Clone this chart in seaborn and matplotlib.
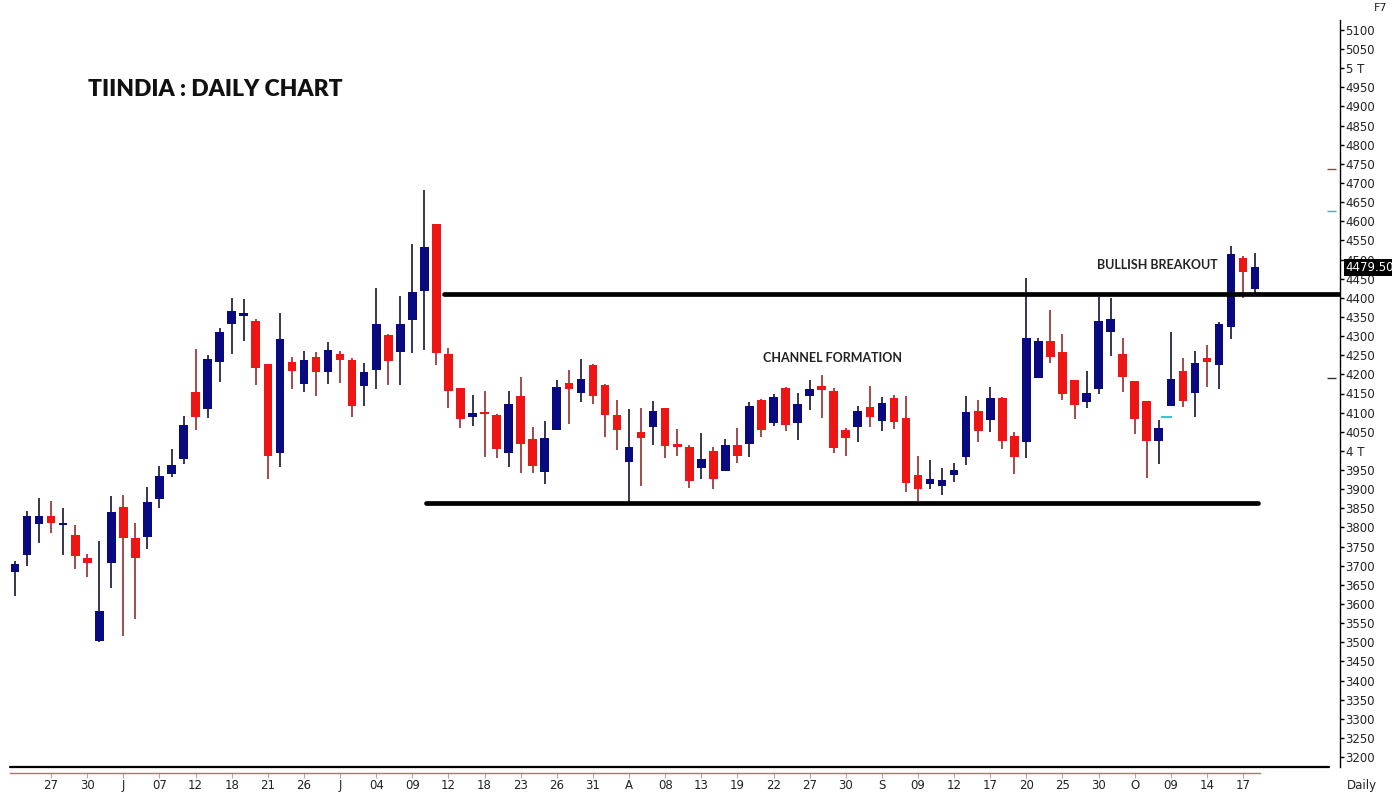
import numpy as np
import pandas as pd
import matplotlib
matplotlib.use("Agg")
import matplotlib.pyplot as plt
import matplotlib.transforms as mtransforms
import seaborn as sns

# ---------------- data ----------------
opens = [3683, 3728, 3809, 3830, 3807, 3780, 3720, 3503, 3707, 3853,
         3772, 3775, 3874, 3939, 3979, 4154, 4109, 4232, 4331, 4352,
         4339, 4227, 3994, 4232, 4175, 4245, 4206, 4253, 4237, 4169,
         4211, 4303, 4258, 4342, 4418, 4593, 4253, 4164, 4088, 4099,
         4094, 3994, 4143, 4031, 3945, 4054, 4177, 4151, 4224, 4172,
         4094, 3971, 4049, 4062, 4112, 4018, 4010, 3955, 4000, 3947,
         4015, 4018, 4133, 4073, 4164, 4073, 4143, 4169, 4156, 4054,
         4062, 4114, 4078, 4138, 4086, 3937, 3913, 3908, 3937, 3984,
         4104, 4081, 4138, 4039, 4023, 4190, 4287, 4258, 4185, 4128,
         4162, 4311, 4253, 4182, 4130, 4026, 4117, 4209, 4151, 4243,
         4224, 4324, 4504, 4423]
highs = [3712, 3843, 3877, 3869, 3851, 3806, 3730, 3764, 3882, 3885,
         3811, 3905, 3960, 4005, 4091, 4266, 4250, 4321, 4399, 4397,
         4345, 4227, 4360, 4245, 4261, 4258, 4284, 4261, 4243, 4230,
         4426, 4305, 4405, 4541, 4682, 4593, 4269, 4164, 4146, 4156,
         4096, 4156, 4193, 4062, 4078, 4185, 4211, 4240, 4226, 4174,
         4133, 4109, 4112, 4130, 4112, 4057, 4015, 4047, 4010, 4031,
         4060, 4128, 4135, 4148, 4166, 4151, 4185, 4198, 4164, 4060,
         4117, 4169, 4141, 4146, 4143, 3986, 3976, 3955, 3968, 4143,
         4133, 4167, 4141, 4049, 4452, 4295, 4368, 4305, 4185, 4209,
         4402, 4400, 4295, 4182, 4130, 4081, 4311, 4243, 4261, 4277,
         4337, 4535, 4509, 4517]
lows = [3620, 3699, 3759, 3785, 3728, 3691, 3670, 3500, 3641, 3516,
        3560, 3743, 3851, 3932, 3966, 4054, 4086, 4180, 4253, 4287,
        4172, 3926, 3958, 4162, 4154, 4143, 4175, 4177, 4088, 4117,
        4162, 4172, 4172, 4256, 4263, 4224, 4112, 4060, 4065, 3984,
        3981, 3958, 3942, 3942, 3913, 4054, 4070, 4128, 4122, 4036,
        4002, 3866, 3908, 4015, 3981, 3986, 3903, 3926, 3900, 3947,
        3968, 3984, 4036, 4065, 4052, 4028, 4107, 4086, 3994, 3986,
        4023, 4062, 4052, 4057, 3892, 3869, 3900, 3885, 3918, 3963,
        4023, 4049, 4005, 3939, 3981, 4190, 4230, 4133, 4083, 4112,
        4149, 4248, 4154, 4044, 3929, 3966, 4117, 4115, 4088, 4167,
        4162, 4292, 4400, 4413]
closes = [3704, 3830, 3830, 3811, 3810, 3725, 3707, 3581, 3840, 3772,
          3720, 3866, 3934, 3963, 4067, 4088, 4240, 4311, 4365, 4360,
          4216, 3986, 4292, 4209, 4237, 4206, 4263, 4237, 4117, 4206,
          4331, 4235, 4331, 4415, 4533, 4256, 4156, 4083, 4099, 4096,
          4005, 4122, 4018, 3960, 4033, 4167, 4162, 4188, 4143, 4094,
          4054, 4010, 4033, 4104, 4013, 4010, 3921, 3979, 3926, 4015,
          3986, 4117, 4054, 4141, 4067, 4122, 4161, 4159, 4007, 4033,
          4104, 4088, 4125, 4075, 3916, 3900, 3926, 3924, 3950, 4102,
          4052, 4138, 4026, 3984, 4295, 4287, 4245, 4149, 4120, 4151,
          4339, 4345, 4193, 4083, 4026, 4060, 4188, 4130, 4230, 4232,
          4331, 4514, 4467, 4479.5]

date_labels = ["27", "30", "J", "07", "12", "18", "21", "26", "J", "04",
               "09", "12", "18", "23", "26", "31", "A", "08", "13", "19",
               "22", "27", "30", "S", "09", "12", "17", "20", "25", "30",
               "O", "09", "14", "17"]
date_label_pos = list(range(3, 3 + 3 * len(date_labels), 3))

price_ticks = list(range(3200, 5101, 50))
price_tick_labels = ["5 T" if p == 5000 else ("4 T" if p == 4000 else str(p))
                     for p in price_ticks]

resistance_level = 4410
support_level = 3865
resistance_span = [35.6, 110.05]
support_span = [34.1, 103.2]
last_price = 4479.5

# ---------------- style ----------------
sns.set_theme(style="white")
plt.rcParams["font.family"] = ["DejaVu Sans"]

UP = "#0a0a80"
DOWN = "#ee1515"
UP_WICK = "#000020"
DOWN_WICK = "#8b1a1a"

fig = plt.figure(figsize=(13.92, 7.94), dpi=100)
ax = fig.add_axes([10 / 1392, 27 / 794, 1330 / 1392, 747 / 794])

o = np.array(opens, dtype=float)
h = np.array(highs, dtype=float)
l = np.array(lows, dtype=float)
c = np.array(closes, dtype=float)
x = np.arange(len(o))
up = c >= o

body_bottom = np.minimum(o, c)
body_height = np.maximum(np.abs(c - o), 5)

ax.vlines(x[up], l[up], h[up], colors=UP_WICK, lw=1.1, zorder=2)
ax.vlines(x[~up], l[~up], h[~up], colors=DOWN_WICK, lw=1.1, zorder=2)
ax.bar(x[up], body_height[up], bottom=body_bottom[up], width=0.72,
       color=UP, edgecolor="none", zorder=3)
ax.bar(x[~up], body_height[~up], bottom=body_bottom[~up], width=0.72,
       color=DOWN, edgecolor="none", zorder=3)

# channel lines
lines_df = pd.DataFrame({
    "x": resistance_span + support_span,
    "y": [resistance_level] * 2 + [support_level] * 2,
    "line": ["res", "res", "sup", "sup"],
})
for name, grp in lines_df.groupby("line"):
    sns.lineplot(data=grp, x="x", y="y", ax=ax, color="black", lw=3.4,
                 solid_capstyle="round", zorder=4, legend=False)

# small marks near price axis
ax.hlines([4737], 109.0, 109.7, colors="#a04040", lw=1)
ax.hlines([4627], 109.0, 109.7, colors="#60a0b0", lw=1)
ax.hlines([4190], 109.0, 109.7, colors="#303030", lw=1)
ax.hlines([4088], 95.2, 96.1, colors="#40c0d0", lw=1.5, zorder=4)

ax.set_xlim(-0.415, 110.05)
ax.set_ylim(3174, 5126)
ax.set_xlabel("")
ax.set_ylabel("")

# y axis on the right
ax.yaxis.tick_right()
ax.set_yticks(price_ticks)
ax.set_yticklabels(price_tick_labels)
ax.tick_params(axis="y", which="both", right=True, left=False, direction="out",
               length=3, width=1, color="black", labelcolor="#222222",
               labelsize=8.5, pad=1)

# x axis
ax.set_xticks(date_label_pos)
ax.set_xticklabels(date_labels)
ax.tick_params(axis="x", bottom=True, direction="out", length=3.3, width=0.8,
               color="#c8a0a0", labelcolor="#222222", labelsize=8.5, pad=0.8)

for s in ["top", "left"]:
    ax.spines[s].set_visible(False)
ax.spines["right"].set_visible(True)
ax.spines["right"].set_color("black")
ax.spines["right"].set_linewidth(1)
ax.spines["bottom"].set_visible(True)
ax.spines["bottom"].set_position(("outward", 4.3))
ax.spines["bottom"].set_color("#c86a6a")
ax.spines["bottom"].set_linewidth(1)
ax.spines["bottom"].set_bounds(-0.415, 103.4)

# black baseline at the bottom of the price pane
ax.axhline(3174, xmin=0, xmax=0.992, color="black", lw=1.6, clip_on=False, zorder=5)

# last price box
trans = mtransforms.blended_transform_factory(ax.transAxes, ax.transData)
ax.text(1.004, last_price, f"{last_price:.2f}", transform=trans, color="white",
        fontsize=8.5, ha="left", va="center", zorder=10,
        bbox=dict(facecolor="black", edgecolor="none", pad=1.2))

# annotations
ax.text(67.9, 4243, "CHANNEL FORMATION", fontsize=9, fontweight="bold",
        family=["Lato", "DejaVu Sans"], color="#222222", ha="center", va="center")
ax.text(94.9, 4486, "BULLISH BREAKOUT", fontsize=9, fontweight="bold",
        family=["Lato", "DejaVu Sans"], color="#222222", ha="center", va="center")

fig.text(88 / 1392, 1 - 90 / 794, "TIINDIA : DAILY CHART", fontsize=16.5,
         fontweight="heavy", family=["Lato", "DejaVu Sans"], color="#111111",
         ha="left", va="center")
fig.text(1381 / 1392, 1 - 8 / 794, "F7", fontsize=8, color="#222222",
         ha="center", va="center")
fig.text(1362 / 1392, 1 - 786 / 794, "Daily", fontsize=8.5, color="#222222",
         ha="center", va="center")

fig.savefig("out.png", dpi=100, facecolor="white")
